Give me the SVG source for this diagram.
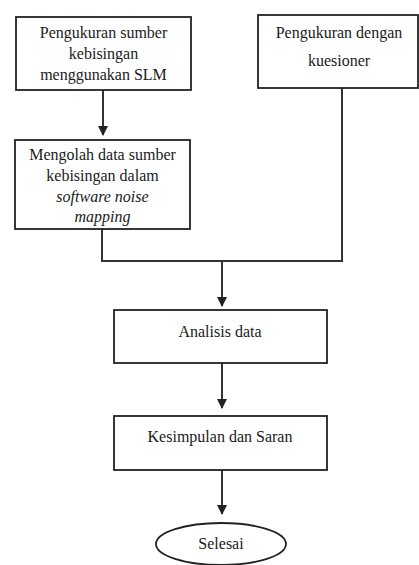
<svg xmlns="http://www.w3.org/2000/svg" width="419" height="565" viewBox="0 0 419 565">
<style>
.box{fill:#fff;stroke:#222;stroke-width:1.8}
.t{font-family:'Liberation Serif','DejaVu Serif',serif;font-size:16px;fill:#1a1a1a;text-anchor:middle}
.i{font-style:italic}
.c{fill:none;stroke:#333;stroke-width:2}
</style>
<defs>
<marker id="ah" markerWidth="10" markerHeight="10" refX="9" refY="5" orient="auto" markerUnits="userSpaceOnUse">
<path d="M0,0 L10,5 L0,10 z" fill="#222"/>
</marker>
</defs>
<rect width="419" height="565" fill="#fff"/>
<g id="connectors">
<line class="c" x1="103" y1="90" x2="103" y2="135" marker-end="url(#ah)"/>
<polyline class="c" points="102,229 102,261 342,261 342,88"/>
<line class="c" x1="222" y1="261" x2="222" y2="306" marker-end="url(#ah)"/>
<line class="c" x1="222" y1="363" x2="222" y2="408" marker-end="url(#ah)"/>
<line class="c" x1="222" y1="470" x2="222" y2="514" marker-end="url(#ah)"/>
</g>
<g id="n1">
<rect class="box" x="16" y="17" width="175" height="73"/>
<text class="t" x="103.5" y="38">Pengukuran sumber</text>
<text class="t" x="103.5" y="59">kebisingan</text>
<text class="t" x="103.5" y="80">menggunakan SLM</text>
</g>
<g id="n2">
<rect class="box" x="258" y="15" width="160" height="73"/>
<text class="t" x="339" y="38">Pengukuran dengan</text>
<text class="t" x="339" y="66">kuesioner</text>
</g>
<g id="n3">
<rect class="box" x="15" y="140" width="175" height="89"/>
<text class="t" x="102.5" y="160">Mengolah data sumber</text>
<text class="t" x="102.5" y="181">kebisingan dalam</text>
<text class="t i" x="102.5" y="202">software noise</text>
<text class="t i" x="102.5" y="222">mapping</text>
</g>
<g id="n4">
<rect class="box" x="114" y="310" width="213" height="53"/>
<text class="t" x="220" y="337">Analisis data</text>
</g>
<g id="n5">
<rect class="box" x="114" y="416" width="213" height="54"/>
<text class="t" x="220" y="442">Kesimpulan dan Saran</text>
</g>
<g id="n6">
<ellipse class="box" cx="221" cy="544" rx="65" ry="21"/>
<text class="t" x="221" y="549">Selesai</text>
</g>
</svg>
